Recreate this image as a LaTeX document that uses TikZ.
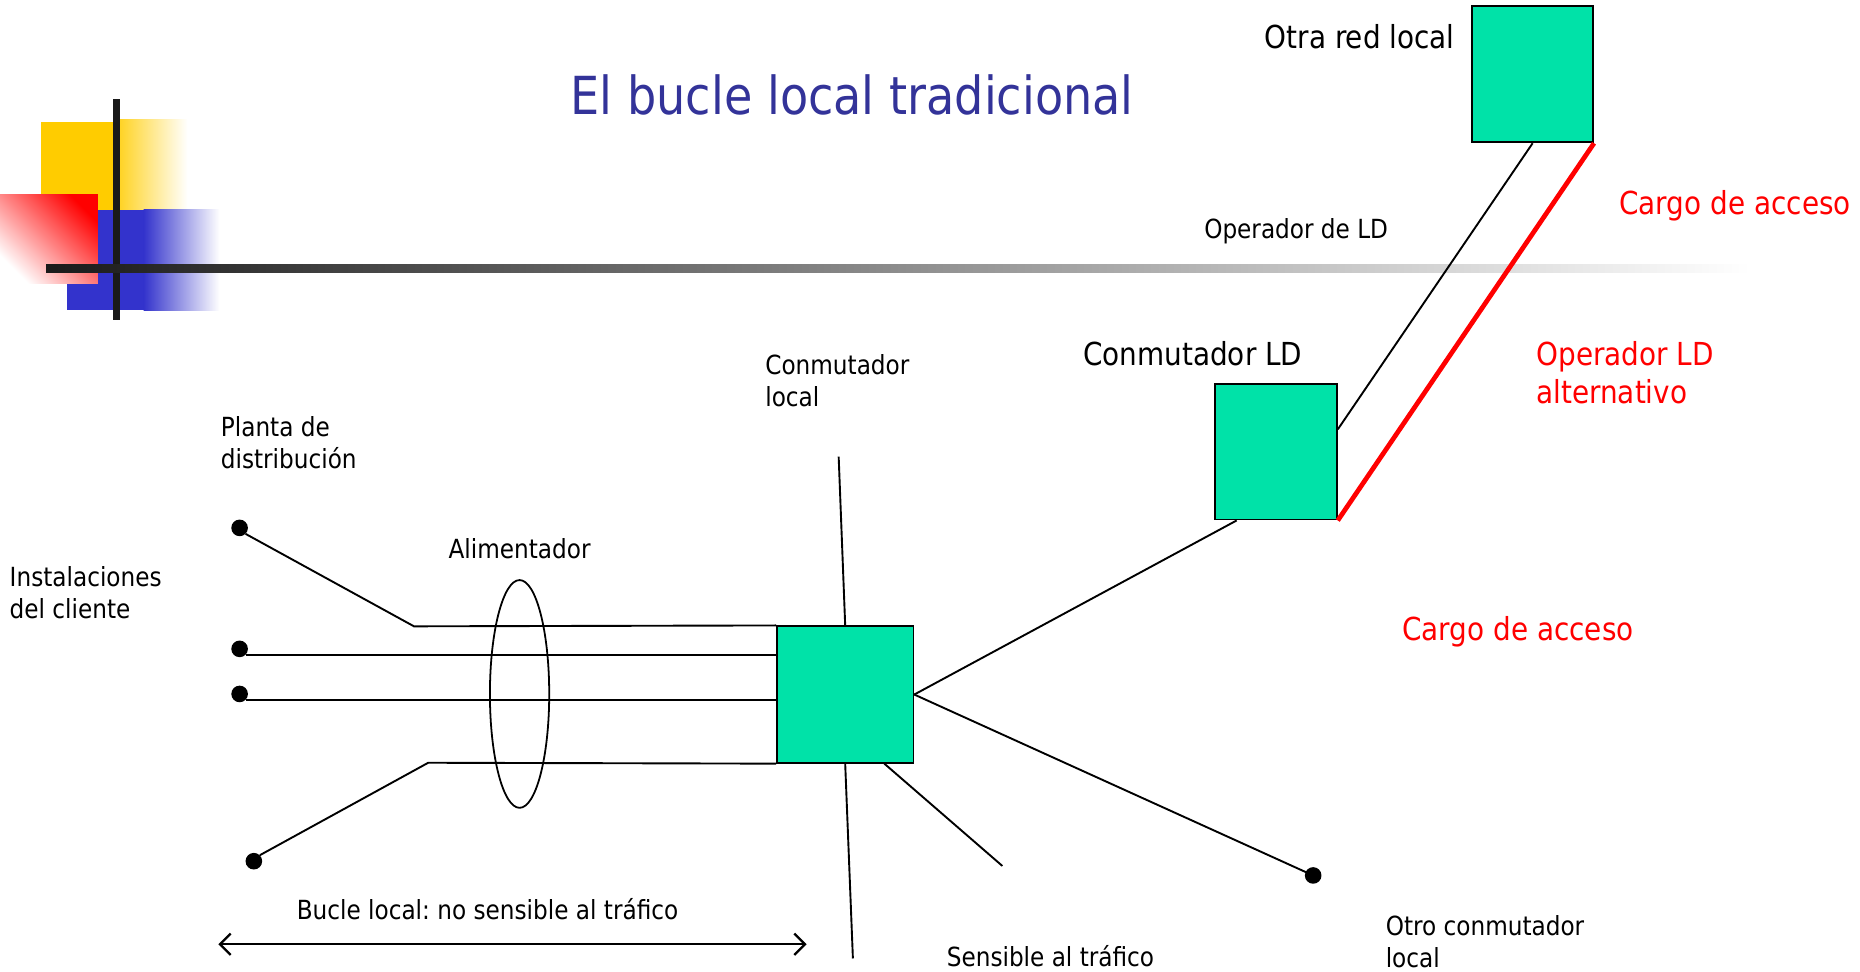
\documentclass[tikz,border=0pt]{standalone}
\usepackage{fontspec}
\setmainfont{DejaVu Sans}[FakeStretch=0.88]
\frenchspacing
\usetikzlibrary{arrows.meta,shapes.geometric,calc}
\definecolor{boxgreen}{RGB}{0,226,168}
\definecolor{titleblue}{RGB}{51,51,153}
\definecolor{decoyellow}{RGB}{255,204,0}
\definecolor{decoblue}{RGB}{51,51,204}
\definecolor{barblack}{RGB}{26,26,26}
\definecolor{accred}{RGB}{255,0,0}
\begin{document}
\begin{tikzpicture}[x=1pt,y=-1pt,
  sqbox/.style={draw=black, line width=1.5pt, fill=boxgreen, inner sep=0pt},
  wire/.style={draw=black, line width=1.6pt},
  redwire/.style={draw=accred, line width=4pt},
  dotnode/.style={circle, fill=black, inner sep=0pt, minimum size=14pt},
  lbl/.style={anchor=base west, inner sep=0pt},
  mlbl/.style={anchor=west, inner sep=0pt, align=left},
  big/.style={font=\fontsize{26.7}{32}\selectfont},
  small/.style={font=\fontsize{22.2}{27}\selectfont},
  redtext/.style={text=accred}]
\useasboundingbox (0,0) rectangle (1568,819);
% decoration
\fill[decoyellow] (34.6,103) rectangle (101,177);
\shade[left color=decoyellow!85, right color=white] (101,101) rectangle (158,177);
\fill[decoblue] (56.5,177) rectangle (121,261);
\shade[left color=decoblue, right color=white] (121,177) rectangle (185,262);
\shade[top color=accred, bottom color=white, shading angle=-45] (0,164) rectangle (82.6,239);
\fill[barblack] (95.3,83.5) rectangle (101.2,269.8);
\shade[left color=barblack, middle color=black!37, right color=white] (38.8,223.3) rectangle (1475,229.3);
% title
\node[lbl, font=\fontsize{44.2}{50}\selectfont, text=titleblue] (title) at (481,96.8) {El bucle local tradicional};
% boxes
\node[sqbox, minimum width=102pt, minimum height=115pt] (otra) at (1292,62.5) {};
\node[sqbox, minimum width=103pt, minimum height=114pt] (ld) at (1075.5,381) {};
\node[sqbox, minimum width=115pt, minimum height=115pt] (sw) at (712.5,585.5) {};
% dots
\node[dotnode] (d1) at (202,445) {};
\node[dotnode] (d2) at (202,547) {};
\node[dotnode] (d3) at (202,585) {};
\node[dotnode] (d4) at (214,726) {};
\node[dotnode] (otro) at (1107,738) {};
% free ends
\coordinate (k1) at (349,528);
\coordinate (k4) at (361,643);
\coordinate (vtop) at (707,385);
\coordinate (vbot) at (719,808);
\coordinate (sens) at (845,730);
\coordinate (al) at (184,796);
\coordinate (ar) at (680,796);
% feeder ellipse
\node[ellipse, draw=black, line width=1.5pt, minimum width=50pt, minimum height=192pt, inner sep=0pt] (feeder) at (438,585) {};
% wires
\draw[wire] (d1.south east) -- (k1) -- (sw.north west);
\draw[wire] (d2.south east) -- (sw.west |- d2.south east);
\draw[wire] (d3.south east) -- (sw.west |- d3.south east);
\draw[wire] (d4.north east) -- (k4) -- (sw.south west);
\draw[wire] (vtop) -- (sw.north);
\draw[wire] (sw.south) -- (vbot);
\draw[wire] ([xshift=33pt]sw.south) -- (sens);
\draw[wire] (sw.east) -- (otro.center);
\draw[wire] (sw.east) -- ([xshift=-33pt]ld.south);
\draw[wire] (otra.south) -- ([yshift=19pt]ld.east);
\draw[redwire] (otra.south east) -- (ld.south east);
\draw[line width=2pt, {Straight Barb[length=9pt,width=18pt]}-{Straight Barb[length=9pt,width=18pt]}] (al) -- (ar);
% labels
\node[lbl, big] (lotra) at (1066,41.1) {Otra red local};
\node[lbl, small] (lopld) at (1015,201.4) {Operador de LD};
\node[lbl, big, redtext] (lcargo1) at (1365,181.1) {Cargo de acceso};
\node[lbl, big] (lconld) at (913,308.1) {Conmutador LD};
\node[mlbl, big, redtext] (lalt) at (1295,314) {Operador LD\\alternativo};
\node[mlbl, small] (lconloc) at (645,321) {Conmutador\\local};
\node[mlbl, small] (lplanta) at (186,373) {Planta de\\distribución};
\node[lbl, small] (lalim) at (378,470.4) {Alimentador};
\node[mlbl, small] (linst) at (8,500) {Instalaciones\\del cliente};
\node[lbl, big, redtext] (lcargo2) at (1182,540.1) {Cargo de acceso};
\node[lbl, small] (lbucle) at (250,775.4) {Bucle local: no sensible al tráfico};
\node[lbl, small] (lsens) at (798,814.4) {Sensible al tráfico};
\node[mlbl, small] (lotro) at (1168,794) {Otro conmutador\\local};
\end{tikzpicture}
\end{document}
